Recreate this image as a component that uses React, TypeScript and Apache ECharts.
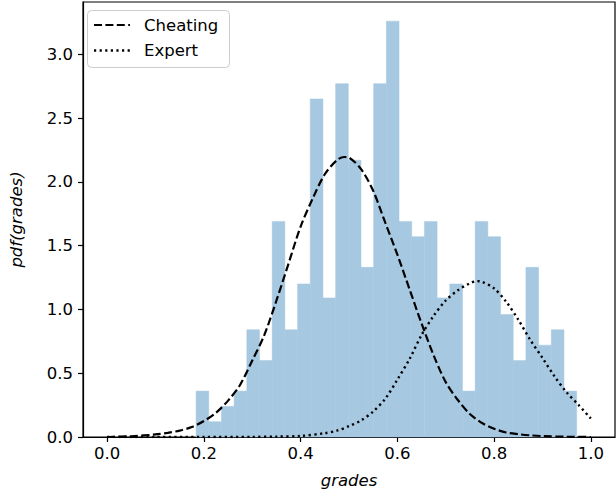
import React, { useEffect, useRef } from "react";
import * as echarts from "echarts";

// Histogram: 30 equal bins between histMin and histMax (density values)
const histMin = 0.1838;
const histMax = 0.9707;
const histDensity = [
  0.36, 0.12, 0.24, 0.36, 0.84, 0.6, 1.69, 0.84, 1.2, 2.65,
  1.09, 2.77, 2.17, 1.33, 2.77, 3.26, 1.69, 1.57, 1.69, 1.09,
  1.2, 0.36, 1.69, 1.57, 0.96, 0.6, 1.33, 0.72, 0.84, 0.36,
];

// Fitted curves
const cheatingX = [
  0, 0.05, 0.1, 0.125, 0.15, 0.175, 0.2, 0.225, 0.25, 0.275, 0.3, 0.325, 0.35,
  0.375, 0.4, 0.425, 0.45, 0.475, 0.49, 0.5, 0.525, 0.55, 0.575, 0.6, 0.625,
  0.65, 0.675, 0.7, 0.725, 0.75, 0.775, 0.8, 0.825, 0.85, 0.875, 0.9, 0.95, 1.0,
];
const cheatingY = [
  0.0, 0.006, 0.02, 0.033, 0.05, 0.078, 0.125, 0.19, 0.285, 0.41, 0.6, 0.8,
  1.07, 1.36, 1.65, 1.87, 2.06, 2.17, 2.195, 2.19, 2.1, 1.93, 1.68, 1.43, 1.16,
  0.89, 0.64, 0.43, 0.29, 0.18, 0.11, 0.065, 0.035, 0.022, 0.013, 0.007, 0.002, 0.0,
];
const expertX = [
  0, 0.1, 0.2, 0.3, 0.35, 0.4, 0.45, 0.475, 0.5, 0.525, 0.55, 0.575, 0.6,
  0.625, 0.65, 0.675, 0.7, 0.725, 0.75, 0.765, 0.775, 0.8, 0.825, 0.85, 0.875,
  0.9, 0.925, 0.95, 0.975, 1.0,
];
const expertY = [
  0, 0, 0, 0.001, 0.003, 0.008, 0.03, 0.05, 0.085, 0.13, 0.2, 0.3, 0.45, 0.61,
  0.8, 0.95, 1.07, 1.15, 1.205, 1.222, 1.217, 1.165, 1.06, 0.92, 0.76, 0.62,
  0.475, 0.35, 0.25, 0.145,
];

const xTicks = [0, 0.2, 0.4, 0.6, 0.8, 1.0];
const yTicks = [0, 0.5, 1.0, 1.5, 2.0, 2.5, 3.0];
const seriesNames = ["Cheating", "Expert"];

const FONT = "DejaVu Sans";
const FS = 16.5;

export default function App() {
  const ref = useRef<HTMLDivElement>(null);

  useEffect(() => {
    if (!ref.current) return;
    const chart = echarts.init(ref.current, null, { renderer: "svg" });
    const n = histDensity.length;
    const w = (histMax - histMin) / n;
    const histData = histDensity.map((h, i) => [histMin + i * w, histMin + (i + 1) * w, h]);
    const cheating = cheatingX.map((x, i) => [x, cheatingY[i]]);
    const expert = expertX.map((x, i) => [x, expertY[i]]);

    chart.setOption({
      animation: false,
      grid: {
        left: 79,
        right: 1,
        top: 2,
        bottom: 57,
        show: true,
        borderColor: "#000",
        borderWidth: 1.2,
        backgroundColor: "transparent",
      },
      xAxis: {
        type: "value",
        min: -0.05,
        max: 1.05,
        splitLine: { show: false },
        axisLine: { show: true, onZero: false, lineStyle: { color: "#000", width: 1.2 } },
        axisTick: { show: true, length: 5, lineStyle: { color: "#000", width: 1.2 }, customValues: xTicks },
        axisLabel: {
          customValues: xTicks,
          formatter: (v: number) => v.toFixed(1),
          color: "#000",
          fontFamily: FONT,
          fontSize: FS,
          margin: 8,
        },
        name: "grades",
        nameLocation: "middle",
        nameGap: 35,
        nameTextStyle: { fontFamily: FONT, fontSize: FS, fontStyle: "italic", color: "#000" },
      },
      yAxis: {
        type: "value",
        min: 0,
        max: 3.41,
        splitLine: { show: false },
        axisLine: { show: true, onZero: false, lineStyle: { color: "#000", width: 1.2 } },
        axisTick: { show: true, length: 5, lineStyle: { color: "#000", width: 1.2 }, customValues: yTicks },
        axisLabel: {
          customValues: yTicks,
          formatter: (v: number) => v.toFixed(1),
          color: "#000",
          fontFamily: FONT,
          fontSize: FS,
          margin: 10,
        },
        name: "pdf(grades)",
        nameLocation: "middle",
        nameGap: 58,
        nameTextStyle: { fontFamily: FONT, fontSize: FS, fontStyle: "italic", color: "#000" },
      },
      series: [
        {
          type: "custom",
          name: "hist",
          data: histData,
          encode: { x: [0, 1], y: 2 },
          z: 1,
          renderItem: (params: any, api: any) => {
            const x0 = api.value(0);
            const x1 = api.value(1);
            const h = api.value(2);
            const p0 = api.coord([x0, h]);
            const p1 = api.coord([x1, 0]);
            return {
              type: "rect",
              shape: { x: p0[0], y: p0[1], width: p1[0] - p0[0], height: p1[1] - p0[1] },
              style: { fill: "#a6c8e1", stroke: "#a6c8e1", lineWidth: 0.5 },
            };
          },
        },
        {
          type: "line",
          name: seriesNames[0],
          data: cheating,
          smooth: 0.3,
          showSymbol: false,
          z: 3,
          lineStyle: { color: "#000", width: 2.2, type: [8, 3.4] },
        },
        {
          type: "line",
          name: seriesNames[1],
          data: expert,
          smooth: 0.3,
          showSymbol: false,
          z: 3,
          lineStyle: { color: "#000", width: 2.4, type: [2.2, 3.4] },
        },
      ],
      graphic: [
        {
          type: "group",
          z: 100,
          children: [
            {
              type: "rect",
              shape: { x: 87.5, y: 10.5, width: 142, height: 57, r: 4 },
              style: { fill: "rgba(255,255,255,0.8)", stroke: "#cccccc", lineWidth: 1 },
            },
            {
              type: "line",
              shape: { x1: 94, y1: 25, x2: 130, y2: 25 },
              style: { stroke: "#000", lineWidth: 2.2, lineDash: [8, 3.4] },
            },
            {
              type: "text",
              x: 144,
              y: 25,
              style: { text: seriesNames[0], fontFamily: FONT, fontSize: FS, fill: "#000", verticalAlign: "middle" },
            },
            {
              type: "line",
              shape: { x1: 94, y1: 50.5, x2: 130, y2: 50.5 },
              style: { stroke: "#000", lineWidth: 2.4, lineDash: [2.2, 3.4] },
            },
            {
              type: "text",
              x: 144,
              y: 50.5,
              style: { text: seriesNames[1], fontFamily: FONT, fontSize: FS, fill: "#000", verticalAlign: "middle" },
            },
          ],
        },
      ],
    });
    return () => chart.dispose();
  }, []);

  return (
    <div
      ref={ref}
      style={{ position: "fixed", left: 0, top: 0, width: 616, height: 494, background: "#fff" }}
    />
  );
}
